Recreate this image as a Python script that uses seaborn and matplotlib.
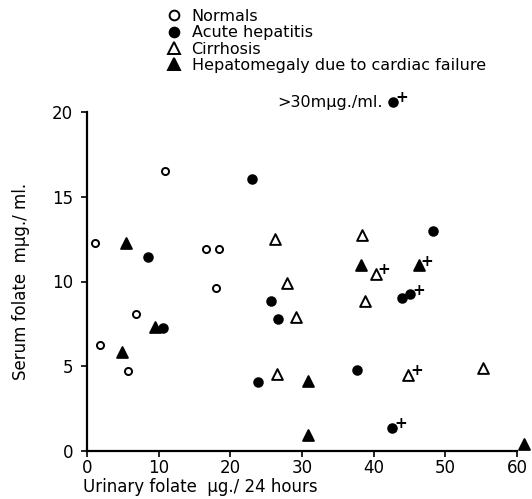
import numpy as np
import pandas as pd
import seaborn as sns
import matplotlib.pyplot as plt
from matplotlib.lines import Line2D

# values
normals_x = [1.1, 1.8, 5.7, 6.8, 10.9, 16.6, 18.4, 18.0]
normals_y = [12.3, 6.25, 4.7, 8.1, 16.5, 11.9, 11.9, 9.6]

hepatitis_x = [8.5, 10.6, 23.0, 23.9, 25.7, 26.7, 37.7, 42.6, 44.0, 45.1, 48.3, 42.7]
hepatitis_y = [11.45, 7.25, 16.05, 4.05, 8.85, 7.8, 4.8, 1.35, 9.0, 9.25, 13.0, 20.6]
hepatitis_plus = [0, 0, 0, 0, 0, 0, 0, 1, 0, 1, 0, 1]

cirrhosis_x = [26.2, 26.5, 27.9, 29.2, 38.4, 38.8, 40.3, 44.8, 55.3]
cirrhosis_y = [12.5, 4.55, 9.9, 7.9, 12.75, 8.85, 10.45, 4.5, 4.9]
cirrhosis_plus = [0, 0, 0, 0, 0, 0, 1, 1, 0]

cardiac_x = [4.9, 5.4, 9.5, 30.8, 30.8, 38.2, 46.3, 61.0]
cardiac_y = [5.85, 12.3, 7.3, 4.15, 0.95, 11.0, 10.95, 0.4]
cardiac_plus = [0, 0, 0, 0, 0, 0, 1, 0]

x_ticks = [0, 10, 20, 30, 40, 50, 60]
y_ticks = [0, 5, 10, 15, 20]

groups = [
    ("Normals", normals_x, normals_y, [0] * len(normals_x), "o", "white", 26),
    ("Acute hepatitis", hepatitis_x, hepatitis_y, hepatitis_plus, "o", "black", 38),
    ("Cirrhosis", cirrhosis_x, cirrhosis_y, cirrhosis_plus, "^", "white", 60),
    ("Hepatomegaly due to cardiac failure", cardiac_x, cardiac_y, cardiac_plus, "^", "black", 60),
]

sns.set_style("ticks")
plt.rcParams["font.family"] = ["DejaVu Sans"]
plt.rcParams["text.color"] = "black"
plt.rcParams["axes.labelcolor"] = "black"
plt.rcParams["xtick.color"] = "black"
plt.rcParams["ytick.color"] = "black"

fig = plt.figure(figsize=(5.32, 4.99), dpi=100)
ax = fig.add_axes([87 / 532, 48 / 499, 430 / 532, 339 / 499])

handles = []
for name, xs, ys, plus, mk, fc, size in groups:
    df = pd.DataFrame({"x": xs, "y": ys, "plus": plus})
    sns.scatterplot(data=df, x="x", y="y", marker=mk, s=size, color=fc,
                    edgecolor="black", linewidth=1.4, clip_on=False, zorder=3, ax=ax)
    for _, r in df[df["plus"] == 1].iterrows():
        ax.annotate("+", (r["x"], r["y"]), xytext=(6, 3), textcoords="offset points",
                    fontsize=11, fontweight="bold", ha="center", va="center",
                    annotation_clip=False)
    handles.append(Line2D([], [], marker=mk, linestyle="none", markersize=7 if mk == "o" else 9,
                          markerfacecolor=fc, markeredgecolor="black", markeredgewidth=1.4,
                          label=name))

ax.set_xlim(0, 60)
ax.set_ylim(0, 20)
ax.set_xticks(x_ticks)
ax.set_yticks(y_ticks)
ax.tick_params(labelsize=12, length=4, width=1.2)
ax.tick_params(axis="x", pad=2)
ax.tick_params(axis="y", pad=6)
sns.despine(ax=ax)
for sp in ["left", "bottom"]:
    ax.spines[sp].set_linewidth(1.6)
    ax.spines[sp].set_color("black")

ax.set_xlabel("")
ax.set_ylabel("Serum folate  mµg./ ml.", fontsize=12, labelpad=16)
fig.text(83 / 532, 1 - 487 / 499, "Urinary folate  µg./ 24 hours", fontsize=12,
         ha="left", va="center")

fig.legend(handles=handles, loc="upper left", bbox_to_anchor=(166 / 532, 1 - 9 / 499),
           frameon=False, fontsize=11.5, handlelength=1.0, handletextpad=0.6,
           labelspacing=0.08, borderpad=0, borderaxespad=0)

fig.text(383 / 532, 1 - 102 / 499, ">30mµg./ml.", fontsize=11.5, ha="right", va="center")

plt.savefig("out.png", dpi=100)
